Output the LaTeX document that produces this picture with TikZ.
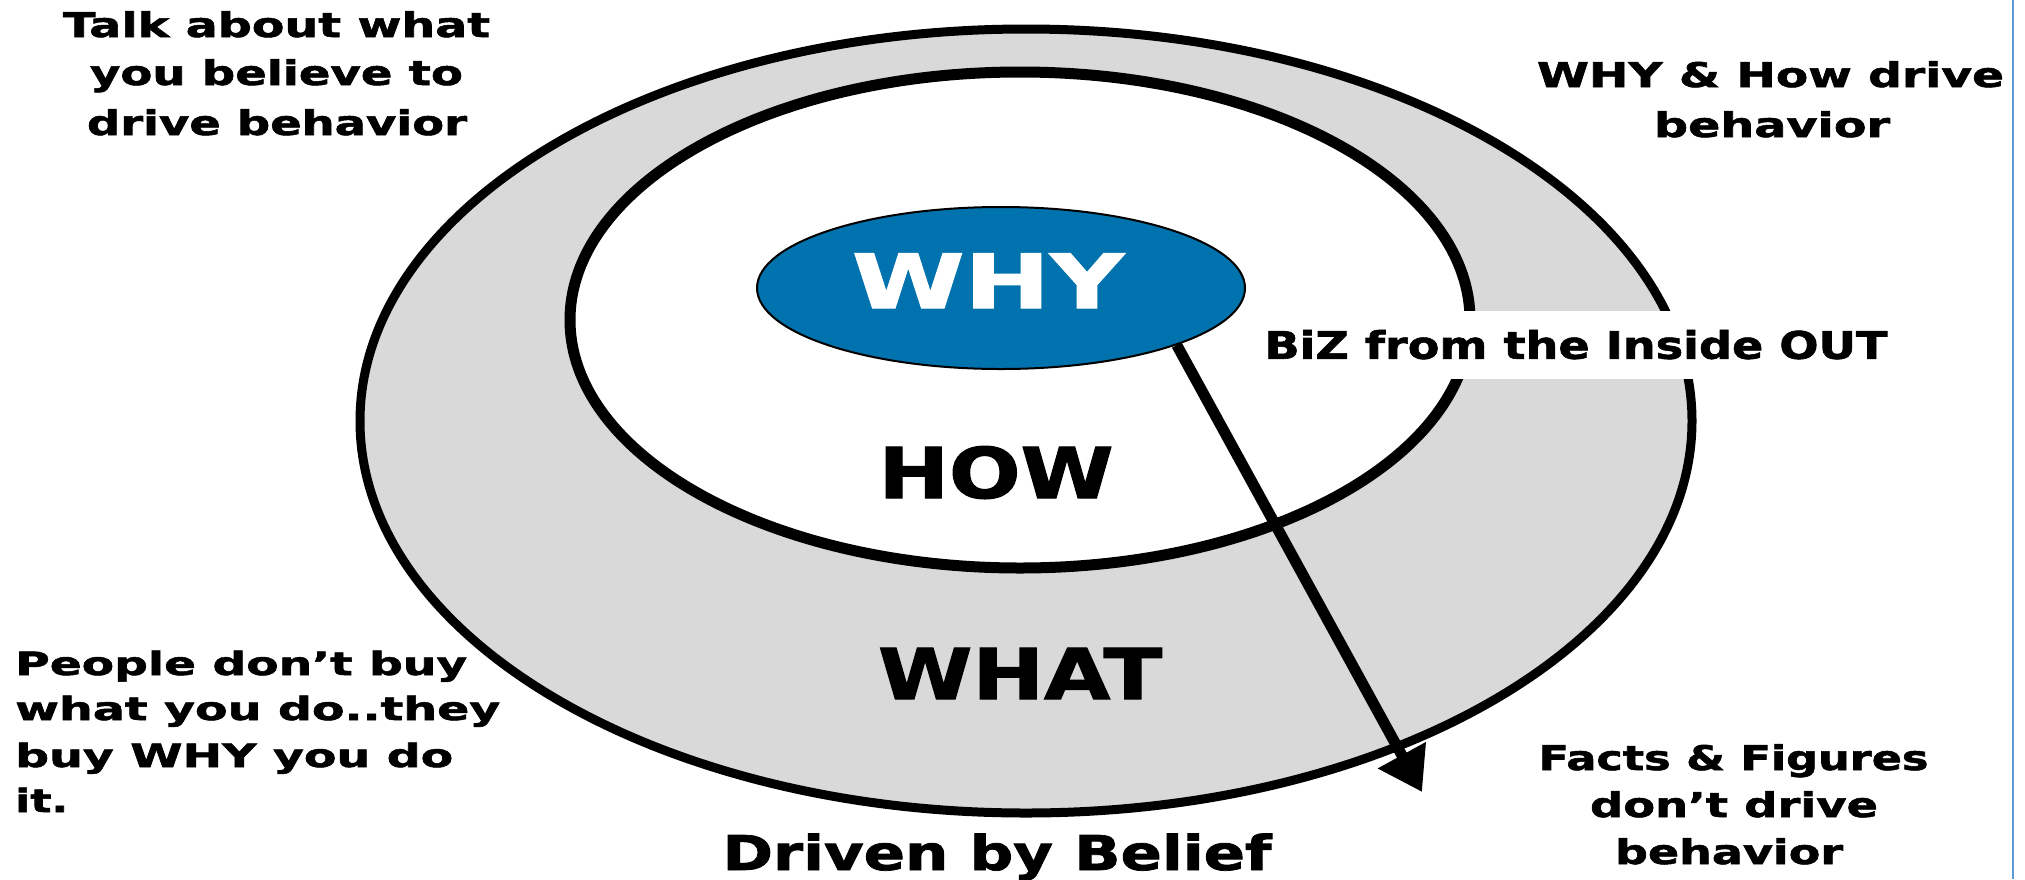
\documentclass[tikz,border=0pt]{standalone}
\usepackage{fontspec}
\setmainfont{DejaVu Sans}[BoldFeatures={FakeBold=1.5}]
\usepackage{graphicx}
\usetikzlibrary{arrows.meta,shapes.geometric}
\definecolor{ringgray}{RGB}{217,217,217}
\definecolor{coreblue}{RGB}{0,114,174}
\definecolor{edgeblue}{RGB}{91,155,213}
% stretch a text horizontally to a given width (in pt), keeping its height
\newcommand{\wfit}[2]{\resizebox{#1pt}{\height}{#2}}
\begin{document}
\begin{tikzpicture}[x=1pt,y=-1pt,
  lbl/.style={inner sep=0pt, anchor=base},
  lblw/.style={inner sep=0pt, anchor=base west},
  small/.style={font=\bfseries\fontsize{34}{40}\selectfont},
  smaller/.style={font=\bfseries\fontsize{32}{38}\selectfont},
  big/.style={font=\bfseries\fontsize{70}{80}\selectfont},
  ring/.style={draw=black, fill=ringgray, line width=9pt},
  core/.style={draw=black, fill=white, line width=11pt},
  pointer/.style={draw=black, line width=11pt, -{Triangle[length=42pt,width=52pt]}}]
\useasboundingbox (0,0) rectangle (2025,879);
\fill[white] (0,0) rectangle (2025,879);

% circles: WHAT ring and HOW disc
\coordinate (whatc) at (1026,421);
\coordinate (howc) at (1020,320);
\path[ring] (whatc) ellipse [x radius=666, y radius=392];
\path[core] (howc) ellipse [x radius=450, y radius=248];

% caption band across the ring
\node[fill=white, inner xsep=18pt, inner ysep=20pt, text height=27.6pt, text depth=0pt,
      font=\bfseries\fontsize{38}{44}\selectfont] (biz) at (1576,345)
  {\wfit{623}{BiZ from the Inside OUT}};

% WHY core
\node[ellipse, minimum width=488pt, minimum height=162pt, inner sep=0pt,
      fill=coreblue, draw=black, line width=2pt] (why) at (1001,288) {};
\node[lbl, text=white, font=\bfseries\fontsize{75}{85}\selectfont] (whyt) at (988,308) {\wfit{272}{WHY}};

% inside-out arrow
\coordinate (tip) at (1422,792);
\draw[pointer] (why.-18) -- (tip);

% ring labels
\node[lbl, big] (how) at (996,498) {\wfit{235}{HOW}};
\node[lbl, big] (what) at (1020,699) {\wfit{284}{WHAT}};

% corner notes
\node[lbl, small] (ta) at (276.5,37) {\wfit{427}{Talk about what}};
\node[lbl, small] (tb) at (276.5,85) {\wfit{373}{you believe to}};
\node[lbl, small] (tc) at (277,135) {\wfit{380}{drive behavior}};

\node[lbl, small] (wa) at (1770.5,87) {\wfit{467}{WHY \& How drive}};
\node[lbl, small] (wb) at (1772,137) {\wfit{236}{behavior}};

\node[lbl, small] (fa) at (1733.5,770) {\wfit{390}{Facts \& Figures}};
\node[lbl, small] (fb) at (1734,817) {\wfit{288}{don’t drive}};
\node[lbl, small] (fc) at (1729,864) {\wfit{228}{behavior}};

\node[lblw, smaller] (pa) at (15,675) {\wfit{452}{People don’t buy}};
\node[lblw, smaller] (pb) at (15,720) {\wfit{485}{what you do..they}};
\node[lblw, smaller] (pc) at (15,767) {\wfit{438}{buy WHY you do}};
\node[lblw, smaller] (pd) at (15,812) {\wfit{53}{it.}};

\node[lbl, font=\bfseries\fontsize{48}{56}\selectfont] (driven) at (997,870) {\wfit{549}{Driven by Belief}};

% thin frame line on the right
\coordinate (edgetop) at (2013,0);
\coordinate (edgebot) at (2013,879);
\draw[edgeblue, line width=2.5pt] (edgetop) -- (edgebot);
\end{tikzpicture}
\end{document}
